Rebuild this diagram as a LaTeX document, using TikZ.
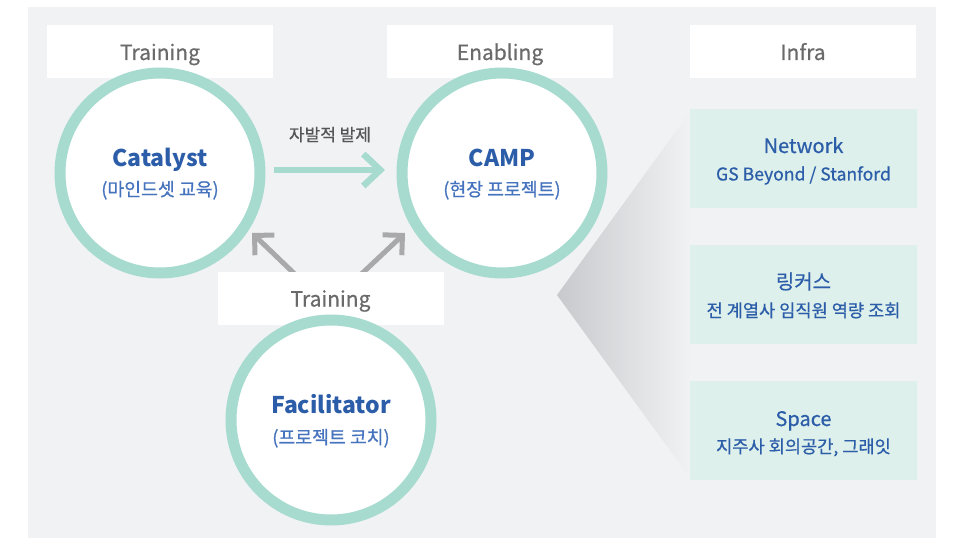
\documentclass[tikz,border=0pt]{standalone}
\usepackage{fontspec}
\setmainfont{Noto Sans CJK KR}
\newfontfamily\medfont{Noto Sans CJK KR}[FakeBold=0.6]
\usetikzlibrary{arrows.meta}
\definecolor{bgc}{HTML}{F1F2F4}
\definecolor{ringc}{HTML}{A7DBCF}
\definecolor{boxc}{HTML}{DEF0EB}
\definecolor{labelc}{HTML}{6A6A6A}
\definecolor{titlec}{HTML}{2C5DA9}
\definecolor{subc}{HTML}{4573BE}
\definecolor{arrowc}{HTML}{A9A9AB}
\definecolor{notec}{HTML}{555555}
\definecolor{shadec}{HTML}{C8C9CC}
\begin{document}
\begin{tikzpicture}[x=1pt,y=-1pt,
  ring/.style={circle, draw=ringc, line width=11pt, fill=white, minimum size=200pt, inner sep=0pt, outer sep=0pt},
  labelbox/.style={fill=white, minimum width=226pt, minimum height=53pt, inner sep=0pt, outer sep=0pt},
  labeltext/.style={anchor=base, inner sep=0pt, text=labelc, font=\medfont\fontsize{21}{25}\selectfont},
  infrabox/.style={fill=boxc, minimum width=227pt, minimum height=99pt, inner sep=0pt, outer sep=0pt},
  ctitle/.style={anchor=base, inner sep=0pt, text=titlec, font=\fontsize{23}{28}\selectfont\bfseries},
  csub/.style={anchor=base, inner sep=0pt, text=subc, font=\medfont\fontsize{18.3}{22}\selectfont},
  ititle/.style={anchor=base, inner sep=0pt, text=titlec, font=\medfont\fontsize{20}{24}\selectfont},
  isub/.style={anchor=base, inner sep=0pt, text=titlec, font=\medfont\fontsize{17.6}{22}\selectfont},
  notetext/.style={anchor=base, inner sep=0pt, text=notec, font=\medfont\fontsize{17}{20}\selectfont},
  grayarrow/.style={draw=arrowc, line width=5pt, -{Straight Barb[length=14pt,width=28pt]}},
  greenarrow/.style={draw=ringc, line width=6.5pt, -{Straight Barb[length=17pt,width=32pt]}}
]
\useasboundingbox (0,0) rectangle (953,540);
\fill[white] (0,0) rectangle (953,540);
\fill[bgc] (28,7) rectangle (936,538);
% fan shading toward infra
\shade[left color=shadec, right color=bgc] (557,295) -- (690,112) -- (690,478) -- cycle;
% gray arrows (start hidden behind lower Training box)
\coordinate (g1s) at (302,281);
\coordinate (g1e) at (252,233);
\coordinate (g2s) at (354,281);
\coordinate (g2e) at (405,233);
\draw[grayarrow] (g1s) -- (g1e);
\draw[grayarrow] (g2s) -- (g2e);
% label boxes
\node[labelbox] (b1) at (160,51.5) {};
\node[labelbox] (b2) at (500,51.5) {};
\node[labelbox] (b3) at (803,51.5) {};
\node[labelbox] (b4) at (330.5,298) {};
\node[labeltext] (l1) at (160,60) {Training};
\node[labeltext] (l2) at (500,60) {Enabling};
\node[labeltext] (l3) at (803,60) {Infra};
\node[labeltext] (l4) at (330.5,306.5) {Training};
% circles
\node[ring] (cat) at (160,173) {};
\node[ring] (camp) at (502,173) {};
\node[ring] (fac) at (331,420) {};
\node[ctitle] (catt) at (160,167) {Catalyst};
\node[csub] (cats) at (160,196) {(마인드셋 교육)};
\node[ctitle] (campt) at (502,167) {CAMP};
\node[csub] (camps) at (502,196) {(현장 프로젝트)};
\node[ctitle] (fact) at (331,413) {Facilitator};
\node[csub] (facs) at (331,444) {(프로젝트 코치)};
% green arrow
\draw[greenarrow, shorten <=14pt, shorten >=17pt] ([yshift=3pt]cat.east) -- ([yshift=3pt]camp.west);
\node[notetext] (note) at (330,141) {자발적 발제};
% infra boxes
\node[infrabox] (i1) at (803.5,158.5) {};
\node[infrabox] (i2) at (803.5,294.5) {};
\node[infrabox] (i3) at (803.5,430.5) {};
\node[ititle] (i1t) at (803.5,153) {Network};
\node[isub] (i1s) at (803.5,180.5) {GS Beyond / Stanford};
\node[ititle] (i2t) at (803.5,289) {링커스};
\node[isub] (i2s) at (803.5,317) {전 계열사 임직원 역량 조회};
\node[ititle] (i3t) at (803.5,426) {Space};
\node[isub] (i3s) at (803.5,453) {지주사 회의공간, 그래잇};
\end{tikzpicture}
\end{document}
